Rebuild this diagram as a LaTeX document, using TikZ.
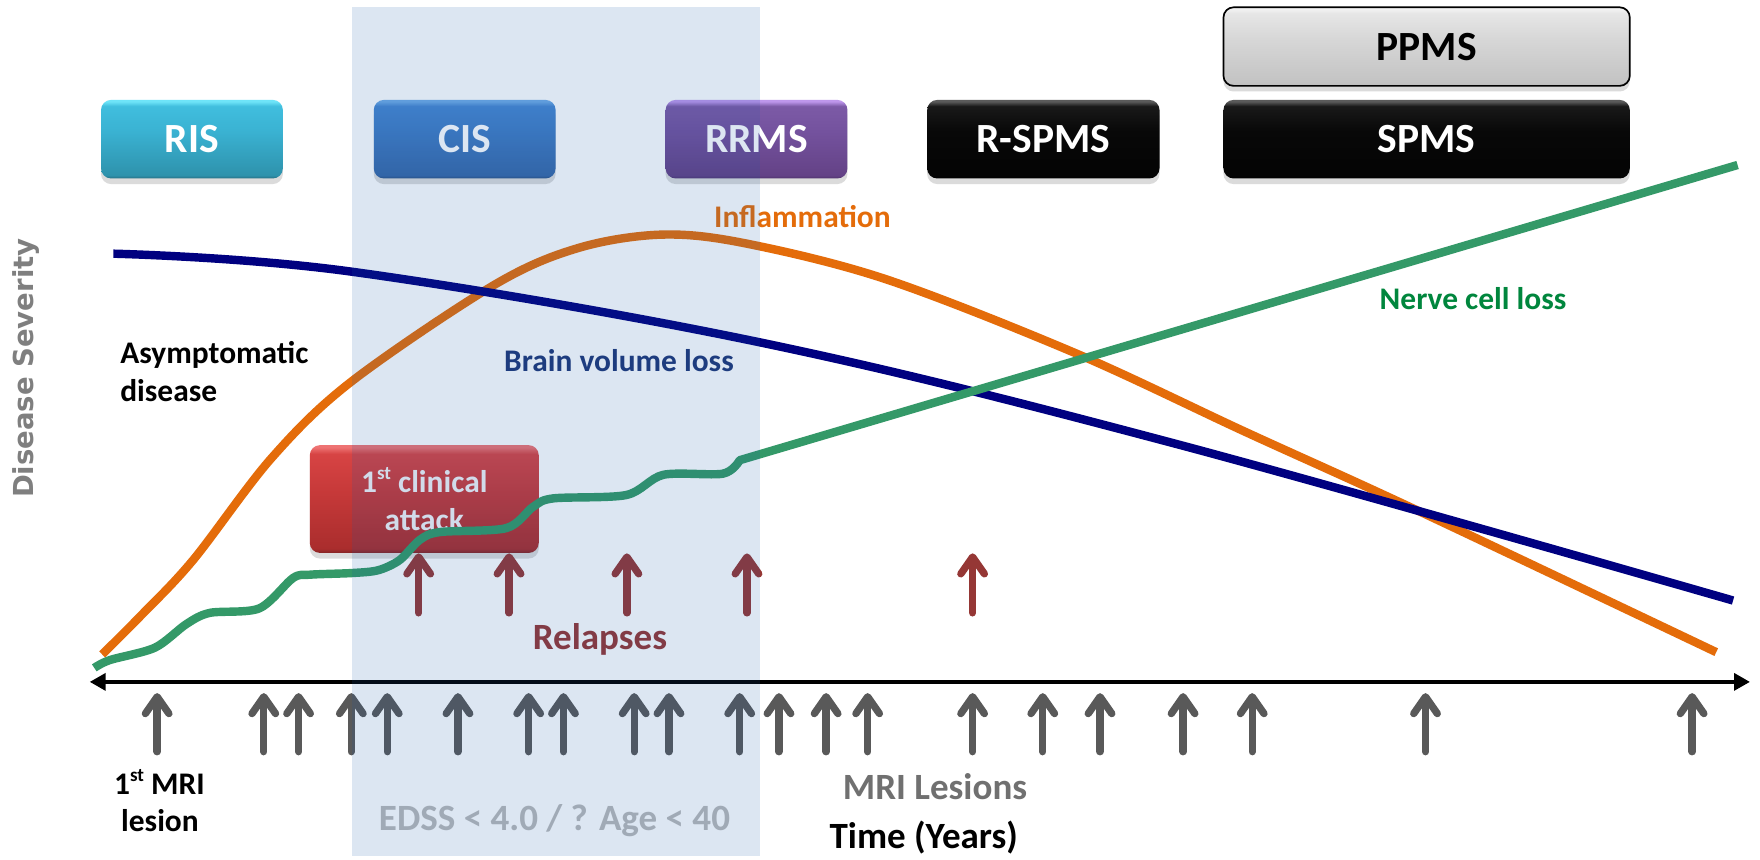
\documentclass[tikz,border=0pt]{standalone}
\usepackage{fontspec}
\setmainfont{Carlito}
\newfontfamily\dvsans{DejaVu Sans}
\usetikzlibrary{arrows.meta,shadows}
\definecolor{cOrange}{RGB}{228,108,10}
\definecolor{cNavy}{RGB}{0,0,128}
\definecolor{cGreen}{RGB}{52,153,104}
\definecolor{cRel}{RGB}{149,55,53}
\definecolor{cMRI}{RGB}{89,89,89}
\definecolor{cShade}{RGB}{22,88,168}
\definecolor{tNerve}{RGB}{0,134,61}
\definecolor{tBrain}{RGB}{31,56,120}
\definecolor{tLes}{RGB}{112,112,112}
\definecolor{tEDSS}{RGB}{185,185,185}
\definecolor{tSev}{RGB}{127,127,127}
% glossy box colours: dark, low, mid, high, light
\definecolor{risA}{RGB}{38,110,130}\definecolor{risB}{RGB}{46,146,172}\definecolor{risC}{RGB}{58,178,210}\definecolor{risD}{RGB}{64,190,222}\definecolor{risE}{RGB}{110,228,248}
\definecolor{cisA}{RGB}{40,80,130}\definecolor{cisB}{RGB}{56,104,168}\definecolor{cisC}{RGB}{64,124,196}\definecolor{cisD}{RGB}{70,134,208}\definecolor{cisE}{RGB}{110,170,230}
\definecolor{rrA}{RGB}{80,50,110}\definecolor{rrB}{RGB}{100,66,134}\definecolor{rrC}{RGB}{116,82,158}\definecolor{rrD}{RGB}{124,90,166}\definecolor{rrE}{RGB}{190,150,235}
\definecolor{bkA}{RGB}{0,0,0}\definecolor{bkB}{RGB}{4,4,4}\definecolor{bkC}{RGB}{8,8,8}\definecolor{bkD}{RGB}{25,25,25}\definecolor{bkE}{RGB}{90,90,90}
\definecolor{rdA}{RGB}{130,35,35}\definecolor{rdB}{RGB}{170,45,45}\definecolor{rdC}{RGB}{200,58,58}\definecolor{rdD}{RGB}{215,68,68}\definecolor{rdE}{RGB}{238,115,115}
\definecolor{ppA}{RGB}{185,185,185}\definecolor{ppB}{RGB}{195,195,195}\definecolor{ppC}{RGB}{215,215,215}\definecolor{ppD}{RGB}{230,230,230}\definecolor{ppE}{RGB}{242,242,242}
\newcommand\mkglossy[6]{\pgfdeclareverticalshading{#1}{100bp}{color(0bp)=(#2); color(25bp)=(#2); color(27bp)=(#3); color(55bp)=(#4); color(71bp)=(#5); color(74bp)=(#6); color(100bp)=(#6)}}
\mkglossy{shRIS}{risA}{risB}{risC}{risD}{risE}
\mkglossy{shCIS}{cisA}{cisB}{cisC}{cisD}{cisE}
\mkglossy{shRRMS}{rrA}{rrB}{rrC}{rrD}{rrE}
\mkglossy{shBlack}{bkA}{bkB}{bkC}{bkD}{bkE}
\mkglossy{shRed}{rdA}{rdB}{rdC}{rdD}{rdE}
\mkglossy{shPPMS}{ppA}{ppB}{ppC}{ppD}{ppE}
\newcommand\mysup[1]{\raisebox{.42em}{\fontsize{17}{17}\selectfont #1}}
\begin{document}
\begin{tikzpicture}[x=1pt,y=-1pt,
  lbl/.style={font=\bfseries\fontsize{28}{34}\selectfont, inner sep=0pt},
  biglbl/.style={font=\bfseries\fontsize{33}{38}\selectfont, inner sep=0pt},
  boxlbl/.style={shade, rounded corners=9pt, minimum width=162pt, minimum height=70pt, inner sep=0pt,
     font=\bfseries\fontsize{37}{44}\selectfont, text=white,
     drop shadow={opacity=0.28, shadow xshift=0pt, shadow yshift=-5pt}},
  curveline/.style={line width=7.5pt},
  mriarrow/.style={cMRI, line width=6.5pt, line cap=round, -{Straight Barb[length=15pt,width=21pt,round]}},
  relarrow/.style={cRel, line width=6.5pt, line cap=round, -{Straight Barb[length=15pt,width=21pt,round]}}
]
\useasboundingbox (0,0) rectangle (1568,765.3);
\fill[white] (0,0) rectangle (1568,765.3);

% stage boxes
\node[boxlbl, shading=shRIS] (ris) at (171,124) {RIS};
\node[boxlbl, shading=shCIS] (cis) at (414,124) {CIS};
\node[boxlbl, shading=shRRMS] (rrms) at (674,124) {RRMS};
\node[boxlbl, shading=shBlack, minimum width=207pt] (rspms) at (929.5,124) {R-SPMS};
\node[boxlbl, shading=shBlack, minimum width=362pt] (spms) at (1271,124) {SPMS};
\node[boxlbl, shading=shPPMS, minimum width=362pt, text=black, draw=black, line width=1.5pt] (ppms) at (1271,41.5) {PPMS};

% first clinical attack
\node[boxlbl, shading=shRed, minimum width=204pt, minimum height=96pt, align=center,
      font=\bfseries\fontsize{28}{34}\selectfont, text={rgb,255:red,242;green,242;blue,246}] (attack) at (378,444.6) {1\mysup{st} clinical\\attack};

% curves
\draw[curveline, cOrange] plot[smooth, tension=0.55] coordinates {(91,583) (125,549) (172,499) (242,408) (313,340) (440,254) (515,221) (590,209) (665,217) (790,249) (959,315) (1110,385) (1259,453) (1529,581)};
\draw[curveline, cNavy] plot[smooth, tension=0.6] coordinates {(101,226) (313,242) (677,305) (1046,395) (1544,535)};
\draw[curveline, cGreen, line join=round] plot[smooth, tension=0.5] coordinates {(84,595) (98,588) (138,577) (166,556) (187,546) (231,542) (261,515) (276,512) (314,510.5) (337,508) (356,499) (374,481) (392,474) (451,470.5) (475,451.5) (493,444) (558,441) (591,423) (644,422) (659,410)} -- (1548,147);

% relapses
\foreach \x in {373,453.5,558.5,665.5,866.5} \draw[relarrow] (\x,546) -- (\x,493);
% MRI lesions
\foreach \x in {140,235,266,313,345,408,471,502,565,596,659,694,736,773,866.5,929,980,1054,1115.6,1270,1507.5}
  \draw[mriarrow] (\x,669.7) -- (\x,617.5);

% time axis
\coordinate (axL) at (80,607.5);
\coordinate (axR) at (1559,607.5);
\draw[line width=3pt, {Triangle[length=14pt,width=15pt]}-{Triangle[length=14pt,width=15pt]}] (axL) -- (axR);

% labels
\node[lbl, text=cOrange, anchor=base west] (infl) at (636,203) {Inflammation};
\node[lbl, text=tNerve, anchor=base west] (nerve) at (1229,276) {Nerve cell loss};
\node[lbl, text=tBrain, anchor=base west] (brain) at (449,331) {Brain volume loss};
\node[lbl, anchor=base west] (asym1) at (107,323.6) {Asymptomatic};
\node[lbl, anchor=base west] (asym2) at (107,358) {disease};
\node[biglbl, text=cRel, anchor=base] (relap) at (534.5,579) {Relapses};
\node[biglbl, text=tLes, anchor=base] (mrilab) at (833,712) {MRI Lesions};
\node[biglbl, anchor=base] (time) at (823,756) {Time (Years)};
\node[biglbl, text=tEDSS, anchor=base] (edss) at (494,740) {EDSS < 4.0 / ? Age < 40};
\node[lbl, anchor=base] (mri1) at (142,708) {1\mysup{st} MRI};
\node[lbl, anchor=base] (mri2) at (142.5,741) {lesion};
\node[font=\dvsans\bfseries\fontsize{24.5}{24.5}\selectfont, text=tSev, rotate=90, inner sep=0pt] (sev) at (23,328) {Disease Severity};

% highlighted period
\fill[cShade, opacity=0.15] (313.6,6) rectangle (677,763);
\end{tikzpicture}
\end{document}
